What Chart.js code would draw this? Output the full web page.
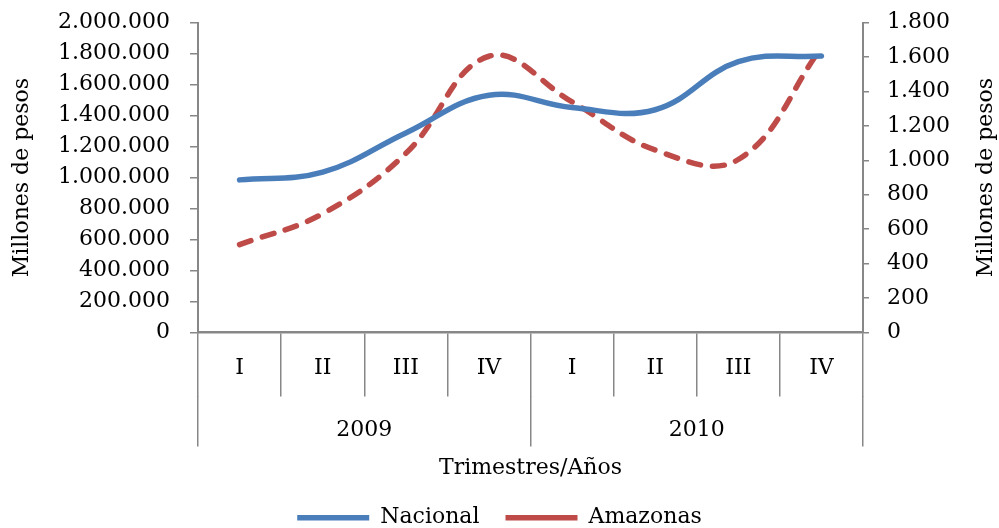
<!DOCTYPE html>
<html>
<head>
<meta charset="utf-8">
<script src="https://cdn.jsdelivr.net/npm/chart.js@4/dist/chart.umd.min.js"></script>
<style>
  html, body { margin: 0; padding: 0; background: #fff; }
  #wrap { width: 999px; height: 528px; position: relative; }
</style>
</head>
<body>
<div id="wrap"><canvas id="c"></canvas></div>
<script>
const quarters = ['I', 'II', 'III', 'IV', 'I', 'II', 'III', 'IV'];
const years = ['2009', '2010'];
const nacional = [985000, 1035000, 1288000, 1532000, 1452000, 1438000, 1748000, 1785000];
const amazonas = [510, 690, 1040, 1605, 1340, 1060, 1005, 1655];
const leftTicks = [0, 2000000, 200000];
const rightTicks = [0, 1800, 200];
const axisTitleY = 'Millones de pesos';
const axisTitleX = 'Trimestres/Años';

const FONT = "'DejaVu Serif', 'Liberation Serif', serif";
const AXIS = '#878787';
const fmt = v => String(v).replace(/\B(?=(\d{3})+(?!\d))/g, '.');

const rightTitle = {
  id: 'rightTitle',
  afterDraw(chart) {
    const s = chart.scales.y1;
    const ctx = chart.ctx;
    ctx.save();
    ctx.font = '22px ' + FONT;
    ctx.fillStyle = '#000';
    ctx.textAlign = 'center';
    ctx.textBaseline = 'middle';
    ctx.translate(s.right - 13, (s.top + s.bottom) / 2);
    ctx.rotate(-Math.PI / 2);
    ctx.fillText(axisTitleY, 0, 0);
    ctx.restore();
  }
};

new Chart(document.getElementById('c'), {
  type: 'line',
  data: {
    labels: quarters,
    datasets: [
      {
        label: 'Nacional',
        data: nacional,
        yAxisID: 'y',
        borderColor: '#4a7ebb',
        backgroundColor: '#4a7ebb',
        borderWidth: 5.5,
        borderCapStyle: 'round',
        pointRadius: 0,
        tension: 0.4,
        fill: false
      },
      {
        label: 'Amazonas',
        data: amazonas,
        yAxisID: 'y1',
        borderColor: '#be4b48',
        backgroundColor: '#be4b48',
        borderWidth: 5.5,
        borderDash: [12, 12],
        borderCapStyle: 'round',
        pointRadius: 0,
        tension: 0.4,
        fill: false
      }
    ]
  },
  options: {
    responsive: true,
    maintainAspectRatio: false,
    animation: false,
    layout: { padding: { top: 22.7, left: 0, right: 0, bottom: -10.7 } },
    plugins: {
      legend: {
        position: 'bottom',
        labels: {
          usePointStyle: true,
          pointStyle: 'line',
          pointStyleWidth: 72,
          padding: 26,
          color: '#000',
          font: { family: FONT, size: 22 }
        }
      },
      tooltip: { enabled: false }
    },
    scales: {
      x: {
        type: 'category',
        position: 'bottom',
        weight: 0,
        offset: true,
        grid: { offset: true, drawOnChartArea: false, tickLength: 64, color: AXIS, lineWidth: 1.5 },
        border: { display: true, color: AXIS, width: 2.5 },
        ticks: { color: '#000', font: { family: FONT, size: 22 }, padding: -41, maxRotation: 0, autoSkip: false },
        afterFit(s) { s.height = 64; }
      },
      x2: {
        type: 'category',
        labels: years,
        position: 'bottom',
        weight: 1,
        offset: true,
        grid: { offset: true, drawOnChartArea: false, tickLength: 50, color: AXIS, lineWidth: 1.5 },
        border: { display: false },
        ticks: { color: '#000', font: { family: FONT, size: 22 }, padding: -29, maxRotation: 0 },
        title: { display: true, text: axisTitleX, color: '#000', font: { family: FONT, size: 22 }, padding: { top: 0, bottom: -1 } },
        afterFit(s) { s.height = 84.3; }
      },
      y: {
        position: 'left',
        min: leftTicks[0], max: leftTicks[1],
        grid: { drawOnChartArea: false, tickLength: 8, color: AXIS, lineWidth: 1.5 },
        border: { color: AXIS, width: 2 },
        ticks: { stepSize: leftTicks[2], color: '#000', font: { family: FONT, size: 22, lineHeight: 0.2 }, padding: 20, callback: v => fmt(v) },
        title: { display: true, text: axisTitleY, color: '#000', font: { family: FONT, size: 22 }, padding: { top: 9, bottom: 0 } },
        afterFit(s) { s.width = 198; }
      },
      y1: {
        position: 'right',
        min: rightTicks[0], max: rightTicks[1],
        grid: { drawOnChartArea: false, tickLength: 6, color: AXIS, lineWidth: 1.5 },
        border: { color: AXIS, width: 2 },
        ticks: { stepSize: rightTicks[2], color: '#000', font: { family: FONT, size: 22, lineHeight: 0.2 }, padding: 18, callback: v => fmt(v) },
        afterFit(s) { s.width = 136; }
      }
    }
  },
  plugins: [rightTitle]
});
</script>
</body>
</html>
